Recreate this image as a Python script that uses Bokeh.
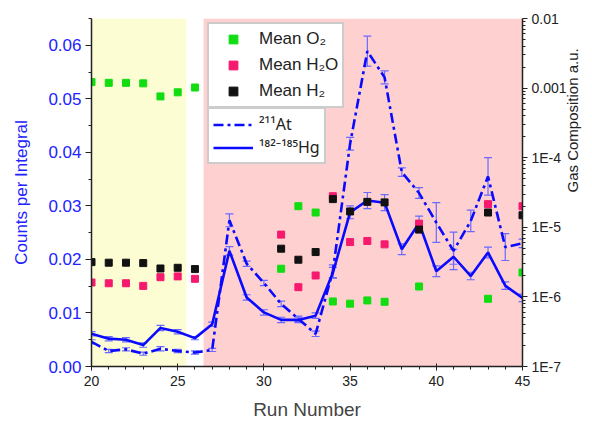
import math
from bokeh.plotting import figure
from bokeh.models import (Range1d, LogScale, LogAxis, FixedTicker, SingleIntervalTicker,
                          NumeralTickFormatter, CustomJSTickFormatter, BoxAnnotation,
                          Legend, LegendItem, Whisker, TeeHead, ColumnDataSource)
from bokeh.embed import file_html
from bokeh.resources import INLINE

# ---------------- data ----------------
runs = list(range(20, 46))
hg = [0.0061, 0.0052, 0.0050, 0.0040, 0.0072, 0.0065, 0.0053, 0.0079, 0.0216, 0.0129,
      0.0101, 0.0087, 0.0087, 0.0095, 0.0175, 0.0288, 0.0310, 0.0306, 0.0219, 0.0268,
      0.0178, 0.0205, 0.0169, 0.0213, 0.0151, 0.0128]
hg_err = [0.0004, 0.0004, 0.0004, 0.0004, 0.0005, 0.0004, 0.0003, 0.0004, 0.0008, 0.0005,
          0.0005, 0.0005, 0.0005, 0.0005, 0.0010, 0.0012, 0.0015, 0.0015, 0.0010, 0.0013,
          0.0010, 0.0014, 0.0007, 0.0010, 0.0007, 0.0007]
at = [0.0046, 0.0029, 0.0032, 0.0024, 0.0033, 0.0029, 0.0026, 0.0031, 0.0273, 0.0192,
      0.0156, 0.0117, 0.0089, 0.0061, 0.0178, 0.0416, 0.0589, 0.0540, 0.0363, 0.0324,
      0.0269, 0.0216, 0.0272, 0.0355, 0.0223, 0.0230]
at_err = [0.0004, 0.0003, 0.0003, 0.0003, 0.0004, 0.0003, 0.0003, 0.0003, 0.0012, 0.0005,
          0.0005, 0.0005, 0.0005, 0.0005, 0.0012, 0.0012, 0.0028, 0.0012, 0.0008, 0.0010,
          0.0037, 0.0035, 0.0020, 0.0035, 0.0025, 0.0008]

gas_runs = [20, 21, 22, 23, 24, 25, 26, 31, 32, 33, 34, 35, 36, 37, 39, 43, 45]
o2 = [1.22e-3, 1.19e-3, 1.19e-3, 1.17e-3, 7.6e-4, 8.7e-4, 1.02e-3, 2.54e-6, 2.01e-5,
      1.63e-5, 8.6e-7, 8.0e-7, 8.9e-7, 8.5e-7, 1.41e-6, 9.4e-7, 2.24e-6]
h2o = [1.61e-6, 1.57e-6, 1.57e-6, 1.44e-6, 1.92e-6, 1.97e-6, 1.82e-6, 7.85e-6, 1.38e-6,
       2.03e-6, 2.80e-5, 6.14e-6, 6.36e-6, 5.69e-6, 1.13e-5, 2.15e-5, 2.01e-5]
h2 = [3.16e-6, 3.10e-6, 3.10e-6, 3.06e-6, 2.56e-6, 2.62e-6, 2.51e-6, 4.93e-6, 3.42e-6,
      4.41e-6, 2.54e-5, 1.69e-5, 2.32e-5, 2.28e-5, 9.27e-6, 1.63e-5, 1.49e-5]

yellow_span = (20, 25.5)
pink_span = (26.5, 45)

# ---------------- styles ----------------
FONT = "Liberation Sans"
BLUE = "#0a0aff"
AXBLUE = "#2222ff"
ERR = "#6a6aff"

p = figure(width=592, height=423, output_backend="svg", toolbar_location=None,
           x_range=Range1d(20, 45), y_range=Range1d(0, 0.065),
           min_border_left=91, min_border_right=70, min_border_top=18, min_border_bottom=57)
p.grid.visible = False
p.outline_line_color = None
p.background_fill_color = "white"
p.border_fill_color = "white"

p.add_layout(BoxAnnotation(left=yellow_span[0], right=yellow_span[1], fill_color="#fdfdd3",
                           fill_alpha=1, line_color=None, level="underlay"))
p.add_layout(BoxAnnotation(left=pink_span[0], right=pink_span[1], fill_color="#ffd0d0",
                           fill_alpha=1, line_color=None, level="underlay"))

# right log axis range
p.extra_y_ranges = {"gas": Range1d(1e-7, 1e-2)}
p.extra_y_scales = {"gas": LogScale()}

# error bars
src_hg = ColumnDataSource(dict(x=runs, y=hg, lo=[a - b for a, b in zip(hg, hg_err)],
                               hi=[a + b for a, b in zip(hg, hg_err)]))
src_at = ColumnDataSource(dict(x=runs, y=at, lo=[a - b for a, b in zip(at, at_err)],
                               hi=[a + b for a, b in zip(at, at_err)]))
for s in (src_hg, src_at):
    p.add_layout(Whisker(source=s, base="x", lower="lo", upper="hi", line_color=ERR, line_width=1.2,
                         upper_head=TeeHead(size=8, line_color=ERR, line_width=1.2),
                         lower_head=TeeHead(size=8, line_color=ERR, line_width=1.2)))

r_at = p.line("x", "y", source=src_at, line_color=BLUE, line_width=2.6, line_dash="10 4 3 4")
r_hg = p.line("x", "y", source=src_hg, line_color=BLUE, line_width=2.6)

r_o2 = p.scatter(gas_runs, o2, marker="square", size=7, color="#11dd11", y_range_name="gas")
r_h2o = p.scatter(gas_runs, h2o, marker="square", size=7, color="#f51a6e", y_range_name="gas")
r_h2 = p.scatter(gas_runs, h2, marker="square", size=7, color="#111111", y_range_name="gas")

# x axis
xa = p.xaxis[0]
xa.ticker = SingleIntervalTicker(interval=5, num_minor_ticks=5)
xa.axis_label = "Run Number"
xa.axis_label_text_font = FONT
xa.axis_label_text_font_size = "19px"
xa.axis_label_text_font_style = "normal"
xa.axis_label_standoff = 10
xa.major_label_text_font = FONT
xa.major_label_text_font_size = "14px"
xa.major_label_text_color = "#222222"
xa.major_label_standoff = 5
xa.major_tick_in = 3
xa.major_tick_out = 4
xa.minor_tick_in = 0
xa.minor_tick_out = 3
xa.axis_line_color = "#222222"
xa.major_tick_line_color = "#222222"
xa.minor_tick_line_color = "#222222"
xa.axis_line_width = 1.5

# left axis
ya = p.yaxis[0]
ya.ticker = SingleIntervalTicker(interval=0.01, num_minor_ticks=2)
ya.formatter = NumeralTickFormatter(format="0.00")
ya.axis_label = "Counts per Integral"
ya.axis_label_text_font = FONT
ya.axis_label_text_font_size = "17px"
ya.axis_label_text_font_style = "normal"
ya.axis_label_text_color = AXBLUE
ya.axis_label_standoff = 14
ya.major_label_text_font = FONT
ya.major_label_text_font_size = "17px"
ya.major_label_text_color = AXBLUE
ya.major_label_standoff = 4
ya.major_tick_in = 0
ya.major_tick_out = 6
ya.minor_tick_in = 0
ya.minor_tick_out = 3
ya.axis_line_color = "#222222"
ya.major_tick_line_color = "#222222"
ya.minor_tick_line_color = "#222222"
ya.axis_line_width = 1.5

# right log axis
decades = [1e-7, 1e-6, 1e-5, 1e-4, 1e-3, 1e-2]
minors = [m * d for d in decades[:-1] for m in range(2, 10)]
ra = LogAxis(y_range_name="gas",
             ticker=FixedTicker(ticks=decades, minor_ticks=minors),
             formatter=CustomJSTickFormatter(code="""
                const e = Math.round(Math.log10(tick));
                if (e == -2) return "0.01";
                if (e == -3) return "0.001";
                return "1E" + e;
             """))
ra.axis_label = "Gas Composition a.u."
ra.axis_label_text_font = FONT
ra.axis_label_text_font_size = "15px"
ra.axis_label_text_font_style = "normal"
ra.axis_label_text_color = "#222222"
ra.axis_label_standoff = 3
if "axis_label_orientation" in ra.properties():
    ra.axis_label_orientation = math.pi / 2
ra.major_label_text_font = FONT
ra.major_label_text_font_size = "14px"
ra.major_label_text_color = "#222222"
ra.major_label_standoff = 4
ra.major_tick_in = 0
ra.major_tick_out = 5
ra.minor_tick_in = 0
ra.minor_tick_out = 3
ra.axis_line_color = "#222222"
ra.major_tick_line_color = "#222222"
ra.minor_tick_line_color = "#222222"
ra.axis_line_width = 1.5
p.add_layout(ra, "right")

# legends
leg1 = Legend(items=[LegendItem(label="Mean O\u2082", renderers=[r_o2]),
                     LegendItem(label="Mean H\u2082O", renderers=[r_h2o]),
                     LegendItem(label="Mean H\u2082", renderers=[r_h2])],
              location=(116, 258))
leg2 = Legend(items=[LegendItem(label="\u00b2\u00b9\u00b9At", renderers=[r_at]),
                     LegendItem(label="\u00b9\u2078\u00b2\u207b\u00b9\u2078\u2075Hg", renderers=[r_hg])],
              location=(116, 202))
for lg, gh, sp, fnt, fs in ((leg1, 22, 4, FONT, "17px"), (leg2, 21, 1, "Noto Sans", "16px")):
    lg.label_text_font = fnt
    lg.label_text_font_size = fs
    lg.label_text_color = "#222222"
    lg.glyph_width = 40
    lg.glyph_height = gh
    lg.spacing = sp
    lg.padding = 4
    lg.margin = 0
    lg.label_standoff = 6
    lg.border_line_color = "#999999"
    lg.border_line_width = 2
    lg.background_fill_color = "white"
    lg.background_fill_alpha = 1
    p.add_layout(lg, "center")

open("out.html", "w").write(file_html(p, INLINE))
